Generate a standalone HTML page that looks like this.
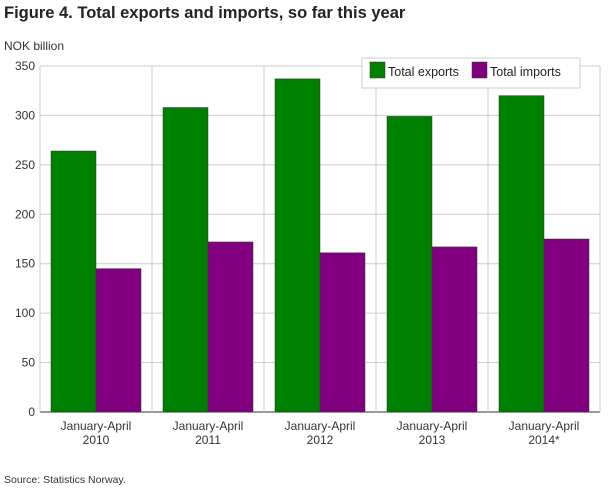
<!DOCTYPE html>
<html><head><meta charset="utf-8"><style>
body{margin:0;background:#fff;font-family:"Liberation Sans",sans-serif;}
</style></head><body>
<svg width="610" height="488" font-family="Liberation Sans, sans-serif">
<text x="4" y="18" font-size="16.5" font-weight="bold" fill="#222">Figure 4. Total exports and imports, so far this year</text>
<text x="4" y="50" font-size="12" fill="#333">NOK billion</text>
<g id="grid"></g><g id="bars"></g><g id="labels"></g>
<g>
<rect x="362" y="58" width="218" height="30" fill="#fff" stroke="#ccc"/>
<rect x="370" y="62" width="15" height="16" fill="#008000" stroke="#333" stroke-width="0.5"/>
<text x="388" y="76" font-size="12.5" fill="#222">Total exports</text>
<rect x="472" y="62" width="15" height="16" fill="#800080" stroke="#333" stroke-width="0.5"/>
<text x="490" y="76" font-size="12.5" fill="#222">Total imports</text>
</g>
<text x="4" y="483" font-size="10.5" fill="#333">Source: Statistics Norway.</text>
</svg>
<script>
const categories=[["January-April","2010"],["January-April","2011"],["January-April","2012"],["January-April","2013"],["January-April","2014*"]];
const exportsVals=[264,308,337,299,320];
const importsVals=[145,172,161,167,175];
const yTicks=[0,50,100,150,200,250,300,350];
const L=40,R=600,T=66,B=412,ns="http://www.w3.org/2000/svg";
const y=v=>B-(v/350)*(B-T);
const bw=(R-L)/categories.length;
function mk(p,t,a){const e=document.createElementNS(ns,t);for(const k in a)e.setAttribute(k,a[k]);document.getElementById(p).appendChild(e);return e;}
yTicks.forEach(v=>{
 const l=mk('grid','line',{x1:L,x2:R,y1:y(v),y2:y(v),stroke:v==0?'#333':'#ccc'});
 
 
 const t=mk('labels','text',{x:L-5,y:y(v)+4,'text-anchor':'end','font-size':12,fill:'#333'});
 t.textContent=v;
 
 
});
for(let i=0;i<=categories.length;i++){
 const l=mk('grid','line',{x1:L+i*bw,x2:L+i*bw,y1:T,y2:B,stroke:'#ccc'});
 
 
}
categories.forEach((c,i)=>{
 const x0=L+i*bw+11,w=(bw-22)/2;
 const b1=mk('bars','rect',{x:x0,y:y(exportsVals[i]),width:w,height:B-y(exportsVals[i]),fill:'#008000',stroke:'#333','stroke-width':0.5});
 
 
 const b2=mk('bars','rect',{x:x0+w,y:y(importsVals[i]),width:w,height:B-y(importsVals[i]),fill:'#800080',stroke:'#333','stroke-width':0.5});
 
 
 c.forEach((s,j)=>{
  const t=mk('labels','text',{x:L+i*bw+bw/2,y:430+j*14,'text-anchor':'middle','font-size':12,fill:'#333'});
  t.textContent=s;
  
  
 });
});
</script>
</body></html>
